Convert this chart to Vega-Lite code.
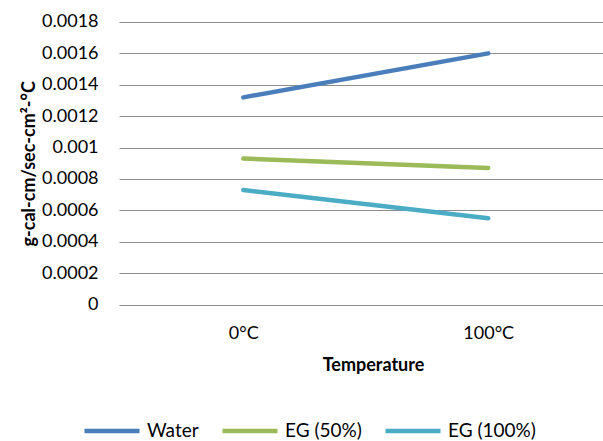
{
  "$schema": "https://vega.github.io/schema/vega-lite/v6.json",
  "width": 484,
  "height": 282.6,
  "autosize": {"type": "none"},
  "padding": {"left": 119, "top": 22, "right": 0, "bottom": 136},
  "background": "white",
  "config": {
    "view": {"stroke": null},
    "font": "Lato",
    "axis": {"labelFont": "Lato", "titleFont": "Lato", "labelColor": "#000000", "titleColor": "#000000"},
    "legend": {"labelFont": "Lato", "labelColor": "#000000"}
  },
  "data": {
    "values": [
      {"temp": "0°C", "series": "Water", "value": 0.00132},
      {"temp": "100°C", "series": "Water", "value": 0.0016},
      {"temp": "0°C", "series": "EG (50%)", "value": 0.00093},
      {"temp": "100°C", "series": "EG (50%)", "value": 0.00087},
      {"temp": "0°C", "series": "EG (100%)", "value": 0.00073},
      {"temp": "100°C", "series": "EG (100%)", "value": 0.00055}
    ]
  },
  "mark": {"type": "line", "strokeWidth": 4.5, "strokeCap": "round"},
  "encoding": {
    "x": {
      "field": "temp",
      "type": "nominal",
      "sort": ["0°C", "100°C"],
      "scale": {"type": "point", "padding": 0.488, "align": 0.52},
      "axis": {
        "title": "Temperature",
        "labelAngle": 0,
        "ticks": false,
        "domain": false,
        "grid": false,
        "labelPadding": 20,
        "labelFontSize": 18,
        "titleFontSize": 18,
        "titleFontWeight": "bold",
        "titlePadding": 14,
        "titleX": 254
      }
    },
    "y": {
      "field": "value",
      "type": "quantitative",
      "scale": {"domain": [0, 0.0018], "nice": false},
      "axis": {
        "title": "g-cal-cm/sec-cm²-°C",
        "values": [0, 0.0002, 0.0004, 0.0006, 0.0008, 0.001, 0.0012, 0.0014, 0.0016, 0.0018],
        "format": "~g",
        "ticks": false,
        "domain": false,
        "grid": true,
        "gridColor": "#8c8c8c",
        "gridWidth": 1,
        "labelPadding": 21,
        "labelFontSize": 18,
        "titleFontSize": 18,
        "titleFontWeight": "bold",
        "titlePadding": 3
      }
    },
    "color": {
      "field": "series",
      "type": "nominal",
      "sort": ["Water", "EG (50%)", "EG (100%)"],
      "scale": {"domain": ["Water", "EG (50%)", "EG (100%)"], "range": ["#4A7EBB", "#9BBB59", "#4BACC6"]},
      "legend": {
        "title": null,
        "orient": "none",
        "direction": "horizontal",
        "legendX": -37,
        "legendY": 379,
        "symbolType": "stroke",
        "symbolSize": 3025,
        "symbolStrokeWidth": 4.5,
        "labelFontSize": 19,
        "labelOffset": 5,
        "columnPadding": 14,
        "gridAlign": "none"
      }
    }
  }
}
